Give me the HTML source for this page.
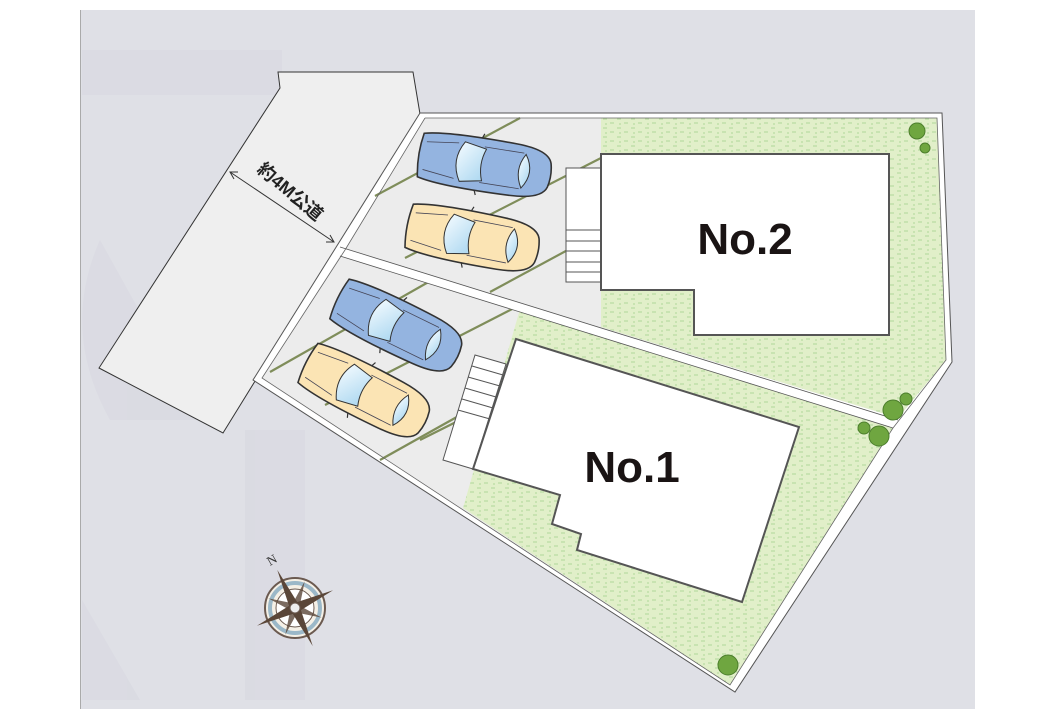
<!DOCTYPE html>
<html><head><meta charset="utf-8"><style>
html,body{margin:0;padding:0;background:#fff;}
svg{display:block;}
</style></head><body>
<svg width="1058" height="709" viewBox="0 0 1058 709" xmlns="http://www.w3.org/2000/svg">
<defs>
<pattern id="grass" width="14" height="9" patternUnits="userSpaceOnUse">
<rect width="14" height="9" fill="#e1efc9"/>
<path d="M1 2h4M8 6h4M3 7h2" stroke="#9fcf8a" stroke-width="0.8"/>
</pattern>
<linearGradient id="glass" x1="0" y1="0" x2="1" y2="1"><stop offset="0" stop-color="#f4fbff"/><stop offset="1" stop-color="#a9d6f0"/></linearGradient>
<g id="car">
<path d="M-64,-22 Q-68,0 -64,22 Q-40,28 30,26 Q62,25 66,12 Q69,0 66,-12 Q62,-25 30,-26 Q-40,-28 -64,-22Z" stroke="#333" stroke-width="1.6"/>
<path d="M-22,-20 Q-34,0 -22,20 L0,16 Q-6,0 0,-16Z" fill="url(#glass)" stroke="#333" stroke-width="1"/>
<path d="M40,-17 Q52,0 40,17 Q30,0 40,-17Z" fill="url(#glass)" stroke="#333" stroke-width="1"/>
<path d="M-2,-18 L38,-18 M-2,18 L38,18 M-60,-14 L-28,-18 M-60,14 L-28,18" stroke="#445" stroke-width="0.8" fill="none"/>
<path d="M-6,-26 l2,-5 M-6,26 l2,5" stroke="#333" stroke-width="1.2"/>
</g>
</defs>
<rect x="80" y="10" width="895" height="699" fill="#dfe0e6"/>
<line x1="80.5" y1="10" x2="80.5" y2="709" stroke="#aaa" stroke-width="1"/>
<g fill="#d8d9e1" opacity="0.7">
<rect x="82" y="50" width="200" height="45"/>
<path d="M100,240 Q60,330 110,420 L220,420 L150,330 Z"/>
<rect x="245" y="430" width="60" height="270"/>
<path d="M82,600 L82,700 L140,700 Z"/>
</g>
<polygon points="278,72 280,88 99,368 223,433 420,114 413,72" fill="#efefef" stroke="#333" stroke-width="1"/>
<polygon points="420,113 942,113 952,362 735,692 253,380" fill="#fff" stroke="#555" stroke-width="1"/>
<polygon points="425,118 937,118 946,360 898,418 345,250" fill="#ececec"/>
<polygon points="601,118 937,118 946,360 898,418 601,327" fill="url(#grass)"/>
<polygon points="340,256 893,428 730,685 262,378" fill="#ececec"/>
<polygon points="520,309 893,428 730,685 463,508" fill="url(#grass)"/>
<g stroke="#7f8d5a" stroke-width="2.2">
<line x1="375" y1="196" x2="520" y2="118"/>
<line x1="405" y1="258" x2="601" y2="158"/>
<line x1="490" y1="292" x2="601" y2="232"/>
<line x1="270" y1="372" x2="432" y2="280"/>
<line x1="325" y1="405" x2="520" y2="305"/>
<line x1="380" y1="460" x2="505" y2="390"/>
<line x1="420" y1="440" x2="500" y2="400"/>
</g>
<polygon points="340,247 898,420 893,428 340,256" fill="#fff"/>
<line x1="340" y1="247" x2="898" y2="420" stroke="#555" stroke-width="0.8"/>
<line x1="340" y1="256" x2="893" y2="428" stroke="#555" stroke-width="0.8"/>
<polyline points="425,118 937,118 946,360 893,428 730,685 262,378 345,250 425,118" fill="none" stroke="#666" stroke-width="0.8"/>
<use href="#car" transform="translate(484,165) rotate(9)" fill="#94b4e0"/>
<use href="#car" transform="translate(472,238) rotate(11)" fill="#fbe4b4"/>
<use href="#car" transform="translate(397,327) rotate(26)" fill="#94b4e0"/>
<use href="#car" transform="translate(365,392) rotate(27)" fill="#fbe4b4"/>
<rect x="566" y="168" width="35" height="114" fill="#fff" stroke="#555" stroke-width="1"/>
<g stroke="#555" stroke-width="1"><line x1="566" y1="230" x2="601" y2="230"/><line x1="566" y1="241" x2="601" y2="241"/><line x1="566" y1="251" x2="601" y2="251"/><line x1="566" y1="262" x2="601" y2="262"/><line x1="566" y1="272" x2="601" y2="272"/></g>
<polygon points="601,154 889,154 889,335 694,335 694,290 601,290" fill="#fff" stroke="#555" stroke-width="2"/>
<text x="745" y="254" font-family="Liberation Sans, sans-serif" font-size="44" font-weight="bold" text-anchor="middle" fill="#1a1414">No.2</text>
<polygon points="475,355 506,364 473,469 443,460" fill="#fff" stroke="#555" stroke-width="1"/>
<g stroke="#555" stroke-width="1"><line x1="472" y1="366" x2="503" y2="375"/><line x1="468" y1="377" x2="500" y2="386"/><line x1="465" y1="388" x2="496" y2="397"/><line x1="462" y1="399" x2="493" y2="408"/><line x1="458" y1="410" x2="490" y2="419"/></g>
<polygon points="516,339 799,427 742,602 577,550 581,534 552,524 560,495 473,469" fill="#fff" stroke="#555" stroke-width="2"/>
<text x="632" y="482" font-family="Liberation Sans, sans-serif" font-size="44" font-weight="bold" text-anchor="middle" fill="#1a1414">No.1</text>
<g fill="#6fa640" stroke="#4c7e2c" stroke-width="1">
<circle cx="917" cy="131" r="8"/><circle cx="925" cy="148" r="5"/>
<circle cx="893" cy="410" r="10"/><circle cx="906" cy="399" r="6"/>
<circle cx="879" cy="436" r="10"/><circle cx="864" cy="428" r="6"/>
<circle cx="728" cy="665" r="10"/>
</g>
<line x1="230" y1="172" x2="334" y2="242" stroke="#333" stroke-width="1"/>
<path d="M238,172 L230,172 L234,179 M326,242 L334,242 L330,235" fill="none" stroke="#333" stroke-width="1"/>
<text x="0" y="0" transform="translate(256,171) rotate(40)" font-family="Liberation Sans, 'Noto Sans CJK JP', sans-serif" font-size="18" font-weight="bold" fill="#222">約4M公道</text>
<g transform="translate(295,608)">
<circle r="30" fill="#f5f0e6" stroke="#6b5a50" stroke-width="2"/>
<circle r="25" fill="none" stroke="#9bb8c8" stroke-width="4"/>
<circle r="19" fill="#fff" stroke="#6b5a50" stroke-width="1"/>
<g fill="#5a4638" transform="rotate(-25)">
<path d="M0,-42 L5,0 L0,42 L-5,0Z"/><path d="M-42,0 L0,5 L42,0 L0,-5Z"/>
<path d="M-20,-20 L3,-3 L20,20 L-3,3Z" opacity="0.8"/><path d="M20,-20 L3,3 L-20,20 L-3,-3Z" opacity="0.8"/>
</g>
<circle r="5" fill="#eee" stroke="#6b5a50"/>
</g>
<text x="0" y="0" transform="translate(270,566) rotate(-30)" font-family="Liberation Serif, serif" font-size="13" fill="#333">N</text>
</svg>
</body></html>
